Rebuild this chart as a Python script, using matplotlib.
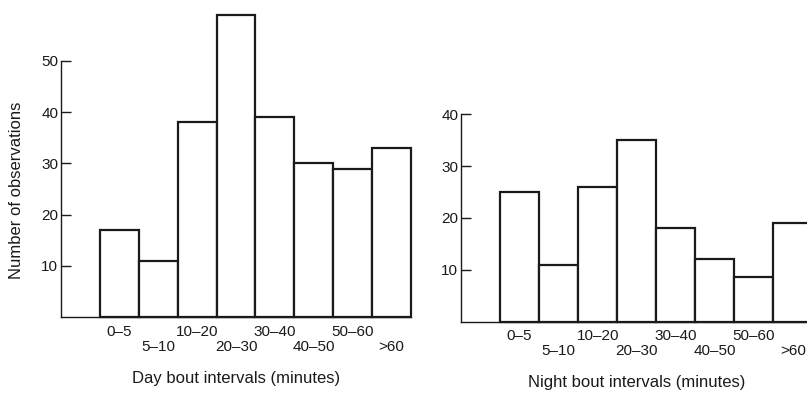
import numpy as np
import matplotlib
matplotlib.use('Agg')
import matplotlib.pyplot as plt

plt.rcParams['font.family'] = ['Liberation Sans', 'DejaVu Sans']

#%% data

bins = ['0–5', '5–10', '10–20', '20–30', '30–40', '40–50', '50–60', '>60']
day_counts = [17, 11, 38, 59, 39, 30, 29, 33]
night_counts = [25, 11, 26, 35, 18, 12, 8.5, 19]
day_ticks = [10, 20, 30, 40, 50]
night_ticks = [10, 20, 30, 40]

ink = '#1a1a1a'


#%% function

def histo(ax, counts, ticks, ymax, xlabel):
    pos = np.arange(1, len(counts) + 1)
    ax.bar(pos, counts, width=1.0, align='edge', facecolor='white',
           edgecolor=ink, linewidth=1.6, clip_on=False)
    ax.set_xlim(0, len(counts) + 1)
    ax.set_ylim(0, ymax)
    for s in ['top', 'right']:
        ax.spines[s].set_visible(False)
    ax.spines['left'].set_bounds(0, ticks[-1])
    ax.spines['bottom'].set_bounds(0, len(counts) + 1)
    for s in ['left', 'bottom']:
        ax.spines[s].set_linewidth(1.0)
        ax.spines[s].set_color(ink)
    ax.set_xticks([])
    ax.set_yticks(ticks)
    ax.tick_params(axis='y', direction='in', length=7.5, width=1.0,
                   color=ink, labelcolor=ink, labelsize=11, pad=2)
    # staggered category labels
    for i, lab in enumerate(bins):
        off = -10.6 if i % 2 == 0 else -21.4
        ax.annotate(lab, xy=(pos[i] + 0.5, 0), xycoords=('data', 'axes fraction'),
                    xytext=(0, off), textcoords='offset points',
                    ha='center', va='center', fontsize=11, color=ink,
                    annotation_clip=False)
    ax.annotate(xlabel, xy=(0.5, 0), xycoords='axes fraction',
                xytext=(0, -44), textcoords='offset points',
                ha='center', va='center', fontsize=12, color=ink)


#%% main

fig = plt.figure(figsize=(8.07, 3.94), dpi=100)
fig.patch.set_facecolor('white')

ax1 = fig.add_axes([61 / 807, 77 / 394, 350 / 807, 307.2 / 394])
ax1.patch.set_visible(False)
histo(ax1, day_counts, day_ticks, 60, 'Day bout intervals (minutes)')

ax2 = fig.add_axes([461 / 807, 72.5 / 394, 351.4 / 807, 233 / 394])
ax2.patch.set_visible(False)
histo(ax2, night_counts, night_ticks, 45, 'Night bout intervals (minutes)')

fig.text(17 / 807, 1 - 190 / 394, 'Number of observations', rotation=90,
         ha='center', va='center', fontsize=12, color=ink)

fig.savefig('out.png', dpi=100)
